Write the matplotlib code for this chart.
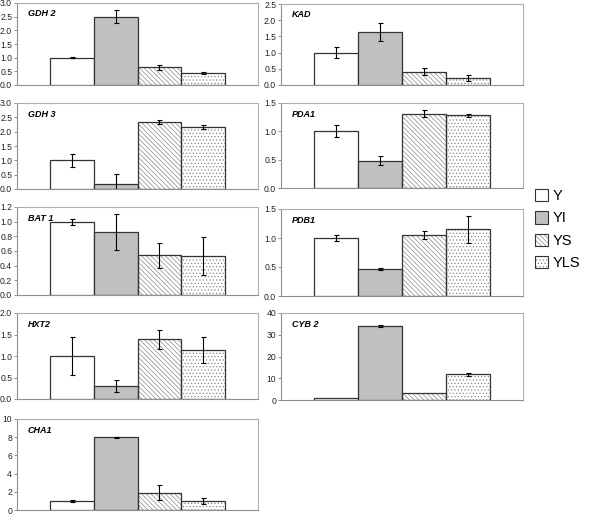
import numpy as np
import matplotlib
matplotlib.use("Agg")
import matplotlib.pyplot as plt
from matplotlib.patches import Patch

# -----------------------------------
# Data
# -----------------------------------

genes = ["GDH 2", "KAD", "GDH 3", "PDA1", "BAT 1", "PDB1", "HXT2", "CYB 2", "CHA1"]
series = ["Y", "YI", "YS", "YLS"]

y_mean = [1.00, 1.00, 1.00, 1.01, 1.00, 1.00, 1.00, 1.0, 1.0]
yi_mean = [2.50, 1.63, 0.18, 0.48, 0.86, 0.46, 0.30, 34.0, 8.0]
ys_mean = [0.65, 0.41, 2.35, 1.31, 0.54, 1.05, 1.39, 3.0, 1.9]
yls_mean = [0.45, 0.21, 2.15, 1.28, 0.53, 1.15, 1.14, 11.8, 1.0]

y_err = [0.03, 0.17, 0.23, 0.11, 0.04, 0.06, 0.44, 0.0, 0.1]
yi_err = [0.24, 0.28, 0.35, 0.08, 0.25, 0.02, 0.14, 0.3, 0.05]
ys_err = [0.10, 0.10, 0.07, 0.06, 0.17, 0.07, 0.22, 0.0, 0.8]
yls_err = [0.04, 0.09, 0.07, 0.03, 0.26, 0.23, 0.30, 0.8, 0.3]

y_max = [3.0, 2.5, 3.0, 1.5, 1.2, 1.5, 2.0, 40, 10]
y_step = [0.5, 0.5, 0.5, 0.5, 0.2, 0.5, 0.5, 10, 2]

# -----------------------------------
# Style
# -----------------------------------

W, H = 592, 515
plt.rcParams["font.family"] = "Liberation Sans"
plt.rcParams["hatch.linewidth"] = 0.5

faces = ["white", "#c0c0c0", "white", "white"]
hatches = [None, None, "\\\\\\\\\\\\\\", "....."]
edge = "#333333"
hatch_col = "#8a8a8a"

# panel boxes in pixels: left, top, right, bottom
left_col = (17, 258)
right_col = (281, 523)
rows = [(3, 85), (4, 85), (103, 189), (103, 188), (207, 295),
        (209, 296), (313, 399), (313, 400), (419, 510)]

fig = plt.figure(figsize=(W / 100, H / 100), dpi=100)

means = [y_mean, yi_mean, ys_mean, yls_mean]
errs = [y_err, yi_err, ys_err, yls_err]

for i, gene in enumerate(genes):
    x0, x1 = left_col if i % 2 == 0 else right_col
    top, bottom = rows[i]
    ax = fig.add_axes([x0 / W, 1 - bottom / H, (x1 - x0) / W, (bottom - top) / H])

    for k in range(4):
        val = means[k][i]
        if hatches[k]:
            ax.bar(k, val, width=1, color=faces[k], edgecolor=hatch_col,
                   hatch=hatches[k], linewidth=0, zorder=2)
            ax.bar(k, val, width=1, fill=False, edgecolor=edge,
                   linewidth=0.9, zorder=3)
        else:
            ax.bar(k, val, width=1, color=faces[k], edgecolor=edge,
                   linewidth=0.9, zorder=3)
        if errs[k][i] > 0:
            ax.errorbar(k, val, yerr=errs[k][i], fmt="none", ecolor="black",
                        elinewidth=0.8, capsize=1.8, capthick=0.8, zorder=4)

    ax.set_xlim(-1.25, 4.25)
    ax.set_ylim(0, y_max[i])
    ticks = np.arange(0, y_max[i] + y_step[i] / 2, y_step[i])
    ax.set_yticks(ticks)
    if y_step[i] >= 1:
        ax.set_yticklabels([f"{t:.0f}" for t in ticks])
    else:
        ax.set_yticklabels([f"{t:.1f}" for t in ticks])
    ax.set_xticks([])
    ax.tick_params(axis="y", direction="out", length=2.5, width=0.6,
                   color="#808080", labelsize=6.2, labelcolor="#222222", pad=1)

    for side in ["top", "right"]:
        ax.spines[side].set_color("#b0b0b0")
        ax.spines[side].set_linewidth(0.8)
    for side in ["left", "bottom"]:
        ax.spines[side].set_color("#909090")
        ax.spines[side].set_linewidth(0.8)

    ax.text(0.045, 0.87, gene, transform=ax.transAxes, fontsize=6.5,
            fontweight="bold", fontstyle="italic", ha="left", va="center",
            zorder=5)

# -----------------------------------
# Legend
# -----------------------------------

handles = []
for k in range(4):
    if hatches[k]:
        h = (Patch(facecolor=faces[k], edgecolor=hatch_col, hatch=hatches[k], linewidth=0),
             Patch(fill=False, edgecolor=edge, linewidth=0.8))
    else:
        h = Patch(facecolor=faces[k], edgecolor=edge, linewidth=0.8)
    handles.append(h)

fig.legend(handles, series, loc="upper left",
           bbox_to_anchor=(528 / W, 1 - 182 / H), frameon=False,
           fontsize=10.5, handlelength=0.9, handleheight=0.9,
           handletextpad=0.3, labelspacing=0.55, borderpad=0)

fig.savefig("out.png", dpi=100)
